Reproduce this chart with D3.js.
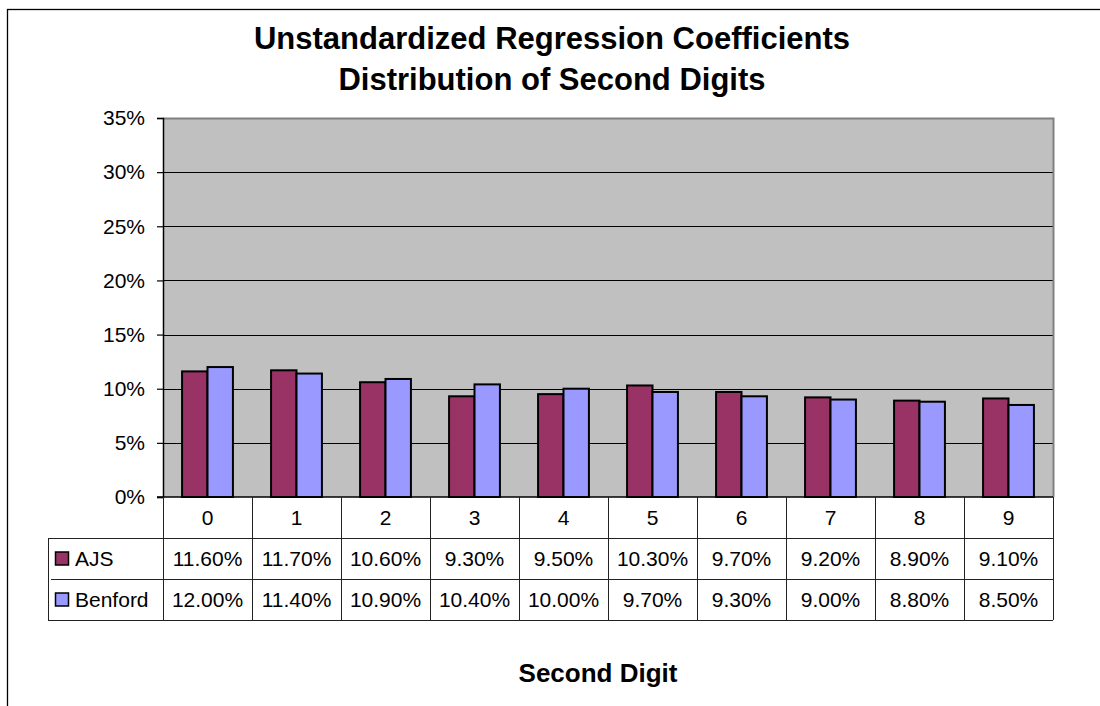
<!DOCTYPE html>
<html>
<head>
<meta charset="utf-8">
<script src="https://cdn.jsdelivr.net/npm/d3@7"></script>
<style>
  html, body { margin: 0; padding: 0; background: #fff; }
  svg { display: block; font-family: "Liberation Sans", Arial, sans-serif; }
</style>
</head>
<body>
<svg id="chart" width="1100" height="706"></svg>
<script>
// Second-digit frequencies (percent)
const digits = ["0", "1", "2", "3", "4", "5", "6", "7", "8", "9"];
const seriesNames = ["AJS", "Benford"];
const ajs = [11.6, 11.7, 10.6, 9.3, 9.5, 10.3, 9.7, 9.2, 8.9, 9.1];
const benford = [12.0, 11.4, 10.9, 10.4, 10.0, 9.7, 9.3, 9.0, 8.8, 8.5];
const yTicks = [0, 5, 10, 15, 20, 25, 30, 35];
const titleLines = ["Unstandardized Regression Coefficients", "Distribution of Second Digits"];
const xTitle = "Second Digit";

(function () {
const seriesValues = [ajs, benford];
const colors = ["#993366", "#9999FF"];

const svg = d3.select("#chart");

// outer chart frame
svg.append("rect")
  .attr("x", 7.5).attr("y", 9.5)
  .attr("width", 1200).attr("height", 800)
  .attr("fill", "#fff").attr("stroke", "#000").attr("stroke-width", 1.3);

// title
const title = svg.append("text")
  .attr("text-anchor", "middle")
  .attr("font-size", 31).attr("font-weight", "bold").attr("fill", "#000");
titleLines.forEach((t, i) => {
  title.append("tspan").attr("x", 552).attr("y", 49 + i * 41).text(t);
});

// plot area geometry
const plotLeft = 163, plotRight = 1053, plotTop = 118, plotBottom = 497;
const rowH = 41;

const x = d3.scaleBand()
  .domain(digits)
  .range([plotLeft, plotRight])
  .paddingInner(1.5 / 3.5)
  .paddingOuter(0.75 / 3.5);
const xs = d3.scaleBand().domain(seriesNames).range([0, x.bandwidth()]);
const y = d3.scaleLinear().domain([0, 35]).range([plotBottom, plotTop]);

// plot background
svg.append("rect")
  .attr("x", plotLeft).attr("y", plotTop)
  .attr("width", plotRight - plotLeft).attr("height", plotBottom - plotTop)
  .attr("fill", "#C0C0C0");

// gridlines
svg.append("g")
  .selectAll("line")
  .data(yTicks.filter(d => d > 0 && d < 35))
  .join("line")
  .attr("x1", plotLeft).attr("x2", plotRight)
  .attr("y1", d => Math.round(y(d)) + 0.5).attr("y2", d => Math.round(y(d)) + 0.5)
  .attr("stroke", "#000").attr("stroke-width", 1);

// plot border (top and right, gray)
svg.append("path")
  .attr("d", `M${plotLeft},${plotTop + 0.5}H${plotRight + 0.5}V${plotBottom}`)
  .attr("fill", "none").attr("stroke", "#808080").attr("stroke-width", 2);

// bars
const groups = svg.append("g")
  .selectAll("g")
  .data(digits)
  .join("g")
  .attr("transform", d => `translate(${x(d)},0)`);

groups.selectAll("rect")
  .data((d, i) => seriesNames.map((s, j) => ({ s, j, v: seriesValues[j][i] })))
  .join("rect")
  .attr("x", d => xs(d.s))
  .attr("y", d => y(d.v))
  .attr("width", xs.bandwidth())
  .attr("height", d => y(0) - y(d.v))
  .attr("fill", d => colors[d.j])
  .attr("stroke", "#000").attr("stroke-width", 2);

// y axis
const yAxis = d3.axisLeft(y)
  .tickValues(yTicks)
  .tickSize(6)
  .tickPadding(12)
  .tickFormat(d => d + "%");
const ya = svg.append("g")
  .attr("transform", `translate(${plotLeft},0)`)
  .call(yAxis);
ya.select(".domain").attr("stroke", "#000").attr("stroke-width", 1.5);
ya.selectAll(".tick line").attr("stroke", "#000").attr("stroke-width", 1.2);
ya.selectAll(".tick text")
  .attr("font-size", 21)
  .attr("font-family", "'Liberation Sans', Arial, sans-serif")
  .attr("fill", "#000");

// data table
const table = svg.append("g");
const lineColor = "#222";
const tableBottom = plotBottom + rowH * 3;

// horizontal table lines
table.append("line").attr("x1", plotLeft - 6).attr("x2", plotRight).attr("y1", plotBottom).attr("y2", plotBottom)
  .attr("stroke", "#000").attr("stroke-width", 1.5);
[1, 2, 3].forEach(r => {
  table.append("line")
    .attr("x1", r === 2 ? 51 : 48).attr("x2", plotRight)
    .attr("y1", plotBottom + r * rowH + 0.5).attr("y2", plotBottom + r * rowH + 0.5)
    .attr("stroke", lineColor).attr("stroke-width", 1);
});
// vertical table lines
const colEdges = digits.map(d => x(d) - x.step() * x.paddingOuter()).concat([plotRight]);
colEdges.forEach(cx => {
  table.append("line")
    .attr("x1", Math.round(cx) + 0.5).attr("x2", Math.round(cx) + 0.5)
    .attr("y1", plotBottom).attr("y2", tableBottom)
    .attr("stroke", lineColor).attr("stroke-width", 1);
});
table.append("line")
  .attr("x1", 48.5).attr("x2", 48.5)
  .attr("y1", plotBottom + rowH).attr("y2", tableBottom)
  .attr("stroke", lineColor).attr("stroke-width", 1);

// category labels
table.selectAll("text.cat")
  .data(digits)
  .join("text")
  .attr("class", "cat")
  .attr("x", d => x(d) + x.bandwidth() / 2)
  .attr("y", plotBottom + rowH / 2)
  .attr("dy", "0.36em")
  .attr("text-anchor", "middle")
  .attr("font-size", 21)
  .text(d => d);

// series rows
seriesNames.forEach((name, j) => {
  const rowY = plotBottom + rowH * (j + 1);
  table.append("rect")
    .attr("x", 55.5).attr("y", rowY + rowH / 2 - 6.5)
    .attr("width", 13).attr("height", 13)
    .attr("fill", colors[j]).attr("stroke", "#000").attr("stroke-width", 1.5);
  table.append("text")
    .attr("x", 75).attr("y", rowY + rowH / 2).attr("dy", "0.36em")
    .attr("font-size", 21).text(name);
  table.selectAll(null)
    .data(seriesValues[j])
    .join("text")
    .attr("x", (d, i) => x(digits[i]) + x.bandwidth() / 2)
    .attr("y", rowY + rowH / 2).attr("dy", "0.36em")
    .attr("text-anchor", "middle")
    .attr("font-size", 21)
    .text(d => d.toFixed(2) + "%");
});

// x axis title
svg.append("text")
  .attr("x", 598).attr("y", 682)
  .attr("text-anchor", "middle")
  .attr("font-size", 26).attr("font-weight", "bold")
  .text(xTitle);
})();
</script>
</body>
</html>
